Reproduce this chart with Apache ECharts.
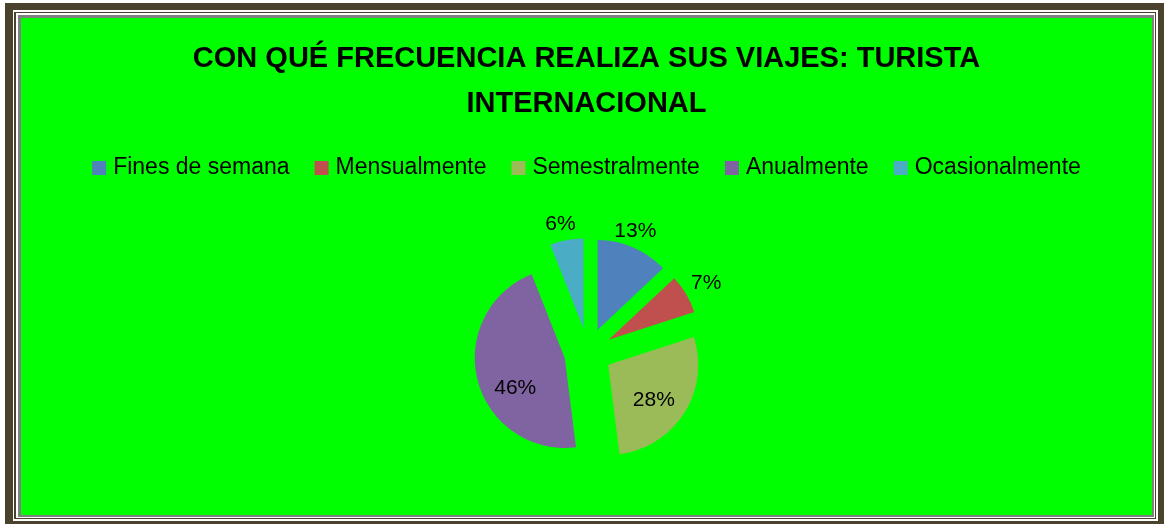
<!DOCTYPE html>
<html>
<head>
<meta charset="utf-8">
<script src="https://cdn.jsdelivr.net/npm/echarts@6/dist/echarts.min.js"></script>
<style>
  html, body { margin: 0; padding: 0; background: #ffffff; }
  body { width: 1165px; height: 526px; position: relative; overflow: hidden; }
  .layer { position: absolute; box-sizing: border-box; }
  #outer  { left: 5px;  top: 3px;  width: 1159px; height: 521px; background: #4a422c; }
  #white1 { left: 13px; top: 10px; width: 1145px; height: 511px; background: #ffffff; }
  #brown2 { left: 14px; top: 12px; width: 1142px; height: 507px; background: #4a422c; }
  #white2 { left: 16px; top: 13px; width: 1139px; height: 505px; background: #ffffff; }
  #grey   { left: 18px; top: 15px; width: 1136px; height: 502px; background: #808080; }
  #chart  { left: 21px; top: 18px; width: 1131px; height: 497px; background: #00ff00; }
</style>
</head>
<body>
<div class="layer" id="outer"></div>
<div class="layer" id="white1"></div>
<div class="layer" id="brown2"></div>
<div class="layer" id="white2"></div>
<div class="layer" id="grey"></div>
<div class="layer" id="chart"></div>
<script>
// Travel frequency of international tourists (percent of respondents)
const categories = ['Fines de semana', 'Mensualmente', 'Semestralmente', 'Anualmente', 'Ocasionalmente'];
const shares = [13, 7, 28, 46, 6];
const sliceColors = ['#4f81bd', '#c0504d', '#9bbb59', '#8064a2', '#4bacc6'];
const titleText = 'CON QUÉ FRECUENCIA REALIZA SUS VIAJES: TURISTA\nINTERNACIONAL';

// Small slices carry their label outside, the big ones inside
const labelPlacement = ['outside', 'outside', 'inside', 'inside', 'outside'];
// Fine adjustments of each value label, in pixels (same order as categories)
const labelNudge = [[-24, -16], [0, -11], [5, 10], [-3, 18], [14, -16]];

const chart = echarts.init(document.getElementById('chart'), null, { renderer: 'canvas' });

const pieData = categories.map((name, i) => ({
  name: name,
  value: shares[i],
  selected: true,
  itemStyle: { color: sliceColors[i] },
  label: { position: labelPlacement[i] }
}));

chart.setOption({
  animation: false,
  backgroundColor: 'transparent',
  title: {
    text: titleText,
    left: 'center',
    top: 18,
    padding: 0,
    textStyle: {
      fontFamily: 'Liberation Sans',
      fontWeight: 'bold',
      fontSize: 29,
      lineHeight: 45,
      color: '#000000'
    }
  },
  legend: {
    data: categories,
    left: 'center',
    top: 138,
    padding: 0,
    itemGap: 25,
    itemWidth: 14,
    itemHeight: 14,
    icon: 'rect',
    selectedMode: false,
    textStyle: {
      fontFamily: 'Liberation Sans',
      fontSize: 23,
      lineHeight: 24,
      color: '#000000',
      padding: [0, 0, 0, 2]
    }
  },
  series: [{
    type: 'pie',
    center: [567, 334],
    radius: 90,
    startAngle: 90,
    clockwise: true,
    selectedMode: 'multiple',
    selectedOffset: 24,
    avoidLabelOverlap: false,
    data: pieData,
    label: {
      show: true,
      formatter: '{c}%',
      fontFamily: 'Liberation Sans',
      fontSize: 21,
      color: '#000000'
    },
    labelLine: { show: false, length: 0, length2: 0 },
    labelLayout: function (params) {
      const n = labelNudge[params.dataIndex];
      return { dx: n[0], dy: n[1] };
    },
    emphasis: { disabled: true },
    select: { itemStyle: { borderWidth: 0 } }
  }]
});
</script>
</body>
</html>
